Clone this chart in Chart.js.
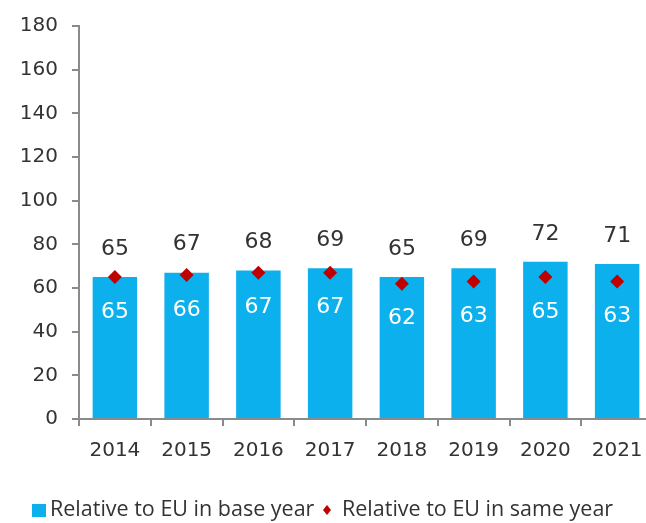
<!DOCTYPE html>
<html>
<head>
<meta charset="utf-8">
<script src="https://cdn.jsdelivr.net/npm/chart.js@4/dist/chart.umd.min.js"></script>
<style>
  html, body { margin: 0; padding: 0; background: #fff; overflow: hidden; }
  #wrap { width: 660px; height: 523px; }
</style>
</head>
<body>
<div id="wrap"><canvas id="chart"></canvas></div>
<script>
// data
const years = ['2014', '2015', '2016', '2017', '2018', '2019', '2020', '2021'];
const baseYear = [65, 67, 68, 69, 65, 69, 72, 71];   // bars
const sameYear = [65, 66, 67, 67, 62, 63, 65, 63];   // diamonds
const yTicks = [0, 20, 40, 60, 80, 100, 120, 140, 160, 180];
const legendLabels = ['Relative to EU in base year', 'Relative to EU in same year'];

const BLUE = '#0cb0ec';
const RED = '#c00000';
const TEXT = '#333333';
const AXIS = '#8a8a8a';
const FONT = "'DejaVu Sans', sans-serif";
const LEGEND_FONT = "'Open Sans', sans-serif";

// value labels: bar value above the bar, diamond value in white inside the bar
const valueLabels = {
  id: 'valueLabels',
  afterDatasetsDraw(chart) {
    const ctx = chart.ctx;
    const bars = chart.getDatasetMeta(0).data;
    const pts = chart.getDatasetMeta(1).data;
    ctx.save();
    ctx.font = '22px ' + FONT;
    ctx.textAlign = 'center';
    ctx.textBaseline = 'middle';
    bars.forEach((bar, i) => {
      ctx.fillStyle = TEXT;
      ctx.fillText(String(baseYear[i]), bar.x, bar.y - 28);
      ctx.fillStyle = '#ffffff';
      ctx.fillText(String(sameYear[i]), pts[i].x, pts[i].y + 35);
    });
    ctx.restore();
  }
};

// legend drawn under the axis, square for bars and a small diamond
const bottomLegend = {
  id: 'bottomLegend',
  afterDraw(chart) {
    const ctx = chart.ctx;
    const y = 510;
    ctx.save();
    ctx.font = '21.5px ' + LEGEND_FONT;
    ctx.textBaseline = 'middle';
    ctx.textAlign = 'left';
    ctx.fillStyle = BLUE;
    ctx.fillRect(32, y - 6, 14, 13);
    ctx.fillStyle = TEXT;
    ctx.fillText(legendLabels[0], 50, y);
    const dx = 327;
    ctx.fillStyle = RED;
    ctx.beginPath();
    ctx.moveTo(dx, y - 5);
    ctx.lineTo(dx + 4, y);
    ctx.lineTo(dx, y + 5);
    ctx.lineTo(dx - 4, y);
    ctx.closePath();
    ctx.fill();
    ctx.fillStyle = TEXT;
    ctx.fillText(legendLabels[1], 342, y);
    ctx.restore();
  }
};

new Chart(document.getElementById('chart'), {
  type: 'bar',
  data: {
    labels: years,
    datasets: [
      {
        label: legendLabels[0],
        data: baseYear,
        backgroundColor: BLUE,
        barPercentage: 0.62,
        categoryPercentage: 1,
        order: 2
      },
      {
        type: 'line',
        label: legendLabels[1],
        data: sameYear,
        showLine: false,
        pointStyle: 'rectRot',
        pointRadius: 7,
        pointBackgroundColor: RED,
        pointBorderColor: RED,
        pointBorderWidth: 0,
        order: 1
      }
    ]
  },
  options: {
    responsive: true,
    maintainAspectRatio: false,
    animation: false,
    layout: { padding: { top: 25, right: 5, bottom: 60, left: 0 } },
    plugins: {
      legend: { display: false },
      tooltip: { enabled: false }
    },
    scales: {
      x: {
        offset: true,
        grid: { display: true, drawOnChartArea: false, drawTicks: true, tickLength: 7, color: AXIS, lineWidth: 2, offset: true },
        border: { display: true, color: AXIS, width: 2 },
        ticks: { color: TEXT, font: { family: FONT, size: 20 }, padding: 13, maxRotation: 0 },
        afterFit: (s) => { s.height = 44; }
      },
      y: {
        min: 0,
        max: 180,
        afterBuildTicks: (s) => { s.ticks = yTicks.map(v => ({ value: v })); },
        grid: { display: true, drawOnChartArea: false, drawTicks: true, tickLength: 7, color: AXIS, lineWidth: 2 },
        border: { display: true, color: AXIS, width: 2 },
        ticks: { color: TEXT, font: { family: FONT, size: 20 }, padding: 14 },
        afterFit: (s) => { s.width = 79; }
      }
    }
  },
  plugins: [valueLabels, bottomLegend]
});
</script>
</body>
</html>
